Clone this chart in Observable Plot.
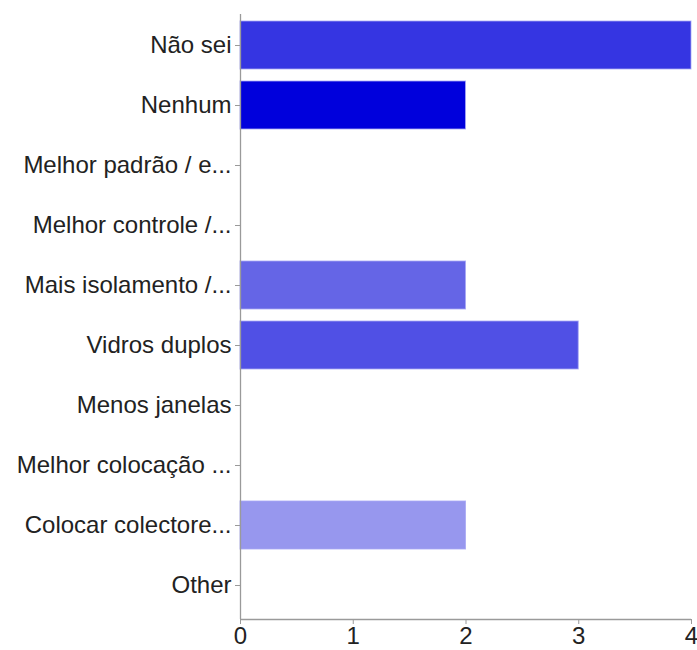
<!DOCTYPE html>
<html>
<head>
<meta charset="utf-8">
<script src="https://cdn.jsdelivr.net/npm/d3@7"></script>
<script src="https://cdn.jsdelivr.net/npm/@observablehq/plot@0.6"></script>
<style>
  html, body { margin: 0; padding: 0; background: #fff; }
  #chart svg { display: block; }
  #chart svg, #chart svg text { font-family: "Liberation Sans", Arial, Helvetica, sans-serif !important; }
</style>
</head>
<body>
<div id="chart"></div>
<script>
const categories = [
  "Não sei",
  "Nenhum",
  "Melhor padrão / e...",
  "Melhor controle /...",
  "Mais isolamento /...",
  "Vidros duplos",
  "Menos janelas",
  "Melhor colocação ...",
  "Colocar colectore...",
  "Other"
];
const values = [4, 2, 0, 0, 2, 3, 0, 0, 2, 0];
const colors = ["#3535e2", "#0000dc", "#3535e2", "#3535e2", "#6565e6", "#5050e5", "#3535e2", "#3535e2", "#9797ee", "#3535e2"];
const xTicks = [0, 1, 2, 3, 4];

const data = categories.map((c, i) => ({category: c, value: values[i], color: colors[i]}));

const chart = Plot.plot({
  width: 697,
  height: 650,
  marginLeft: 240,
  marginRight: 6,
  marginTop: 15,
  marginBottom: 35,
  style: {fontFamily: "Liberation Sans, Arial, Helvetica, sans-serif", fontSize: "24px", color: "#222", background: "#fff"},
  x: {domain: [0, 4], ticks: xTicks},
  y: {domain: categories, paddingInner: 0.2, paddingOuter: 0.1},
  marks: [
    Plot.barX(data.filter(d => d.value > 0), {
      x: "value", y: "category", fill: "color",
      stroke: "#a8a8f4", strokeWidth: 1, strokeOpacity: 0.8
    }),
    Plot.ruleX([0], {stroke: "#9a9a9a", strokeWidth: 1.3, insetTop: -1, insetBottom: -4}),
    Plot.ruleY([categories[categories.length - 1]], {x1: 0, x2: 4, dy: 34, stroke: "#9a9a9a", strokeWidth: 1.3}),
    Plot.axisY({tickSize: 5, tickPadding: 4, stroke: "#9a9a9a", fill: "#222", label: null, fontSize: 24}),
    Plot.axisX({ticks: xTicks, tickSize: 5, tickPadding: 2, stroke: "#9a9a9a", fill: "#222", label: null, fontSize: 24, dy: 4, tickFormat: d3.format("d")})
  ]
});
document.getElementById("chart").appendChild(chart);
</script>
</body>
</html>
